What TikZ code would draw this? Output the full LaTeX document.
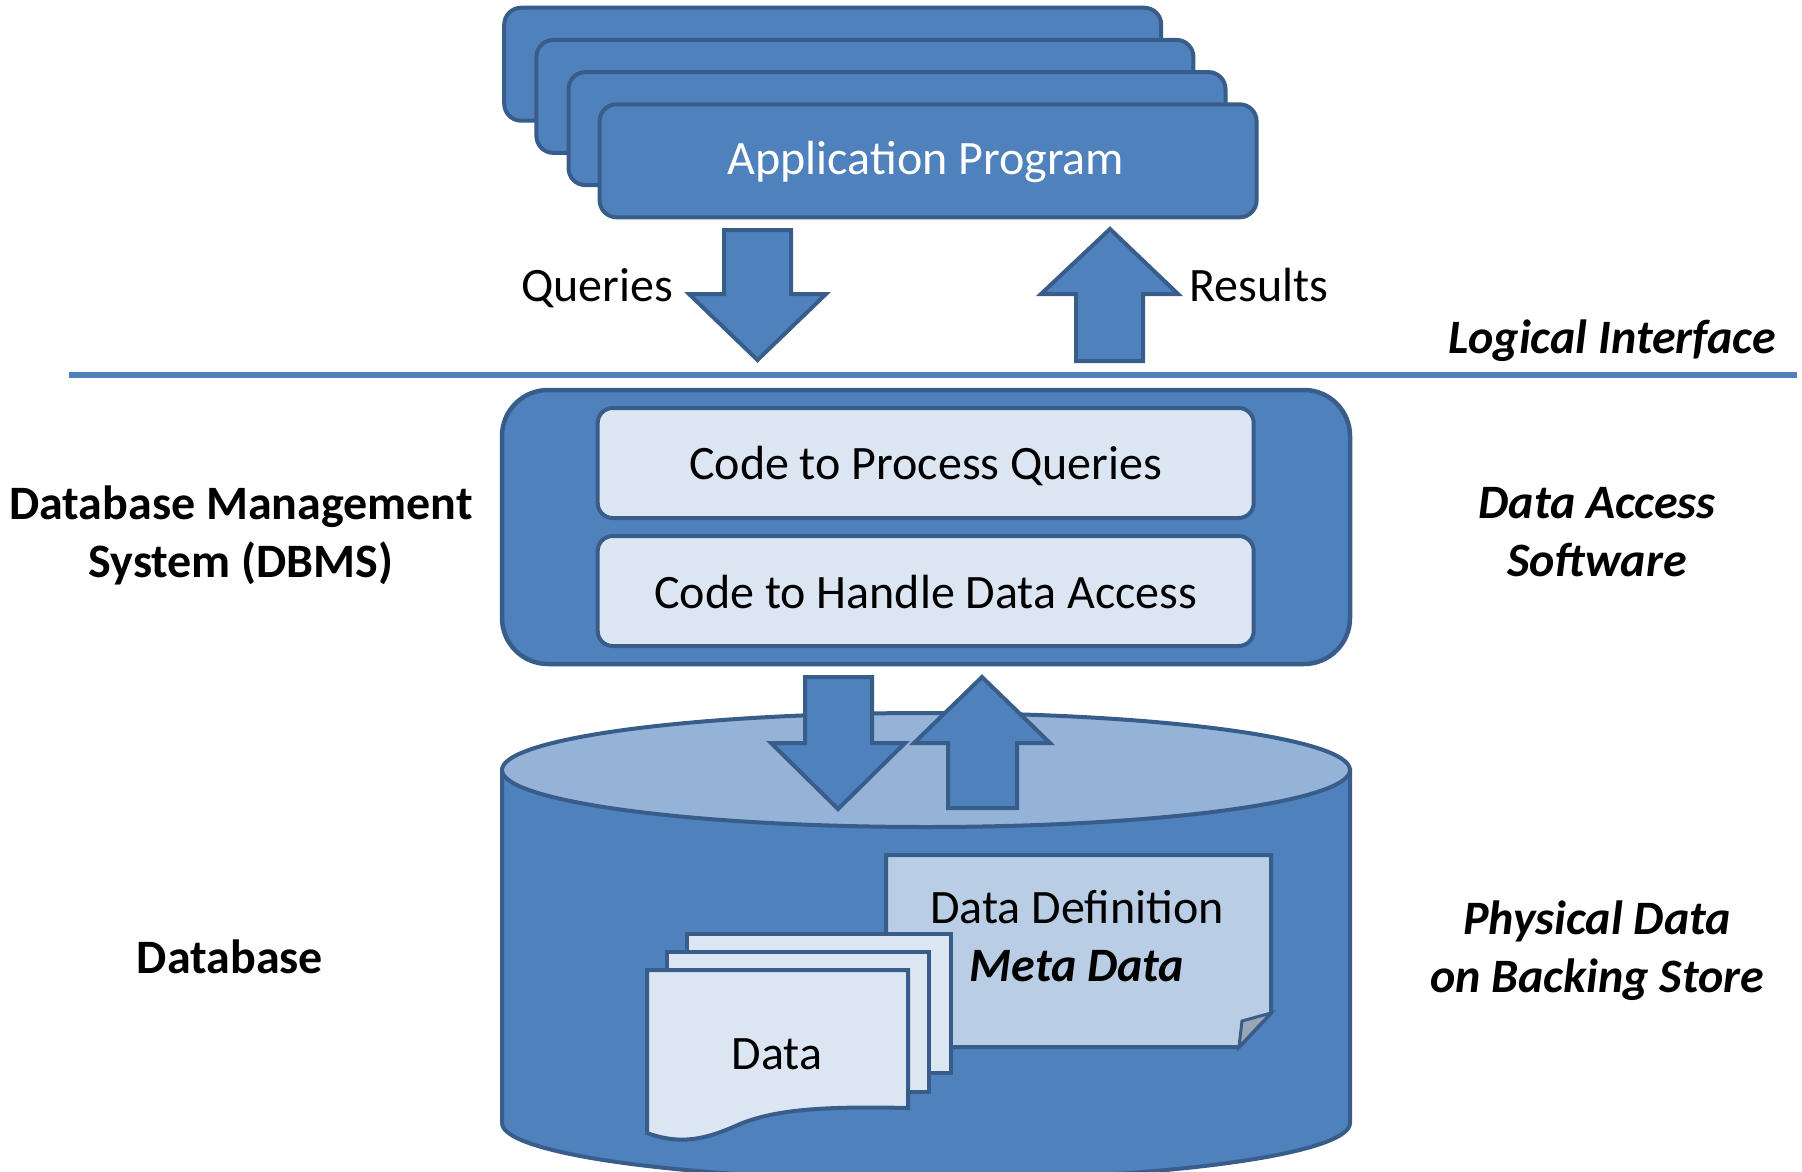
\documentclass[tikz,border=0pt]{standalone}
\usepackage{fontspec}
\setmainfont{Carlito}
\definecolor{mainblue}{HTML}{4F81BD}
\definecolor{edge}{HTML}{385D8A}
\definecolor{lightfill}{HTML}{DCE6F2}
\definecolor{midfill}{HTML}{B9CDE5}
\definecolor{topfill}{HTML}{95B3D7}
\definecolor{foldfill}{HTML}{9AA6B4}
\begin{document}
\begin{tikzpicture}[x=1pt,y=-1pt,
  every node/.style={font=\fontsize{48}{58}\selectfont, inner sep=0pt},
  appbox/.style={draw=edge, line width=4pt, fill=mainblue, rounded corners=17pt,
    minimum width=657pt, minimum height=113pt, anchor=north west, text=white},
  codebox/.style={draw=edge, line width=4pt, fill=lightfill, rounded corners=15pt,
    minimum width=656pt, minimum height=110pt},
  outerbox/.style={draw=edge, line width=4.5pt, fill=mainblue, rounded corners=46pt,
    minimum width=848pt, minimum height=274pt},
  blockarrow/.style={draw=edge, line width=4pt, fill=mainblue, line join=miter},
  docshape/.style={draw=edge, line width=4pt, fill=lightfill, line join=miter},
  lbl/.style={text=black},
  boldlbl/.style={text=black, align=center, font=\fontsize{48}{58}\selectfont\bfseries},
  bilbl/.style={text=black, align=center, font=\fontsize{48}{58}\selectfont\bfseries\itshape}
]
\useasboundingbox (0,0) rectangle (1802,1172);

% application program stack
\node[appbox] (app1) at (502.2,5.7) {};
\node[appbox] (app2) at (534.4,37.9) {};
\node[appbox] (app3) at (566.5,70.1) {};
\node[appbox] (app4) at (597.6,102.3) {};
\node[text=white] (apptext) at (926,162) {Application Program};

% queries / results arrows
\draw[blockarrow] (724,230) -- (791,230) -- (791,294) -- (826,294) -- (757.5,360)
  -- (689,294) -- (724,294) -- cycle;
\draw[blockarrow] (1110,229) -- (1178,294) -- (1143,294) -- (1143,361) -- (1076,361)
  -- (1076,294) -- (1041,294) -- cycle;
\node[lbl] (queries) at (597,288.5) {Queries};
\node[lbl] (results) at (1259,285) {Results};

% separator line
\coordinate (sepL) at (69,375);
\coordinate (sepR) at (1797,375);
\draw[line width=6pt, mainblue] (sepL) -- (sepR);
\node[bilbl, anchor=east] (logical) at (1776,340.5) {Logical Interface};

% DBMS
\node[outerbox] (dbmsbox) at (926,527) {};
\node[codebox] (cpq) at (925.7,463) {};
\node[codebox] (chda) at (925.7,591) {};
\node[lbl] (cpqtext) at (925.7,466) {Code to Process Queries};
\node[lbl] (chdatext) at (925.7,592) {Code to Handle Data Access};
\node[boldlbl] (dbms) at (241,535) {Database Management\\System (DBMS)};
\node[bilbl] (das) at (1597,532) {Data Access\\Software};

% database cylinder
\draw[draw=edge, line width=4pt, fill=mainblue]
  (502,770) -- (502,1123) arc[start angle=180, end angle=360, x radius=424pt, y radius=57pt]
  -- (1350,770) -- cycle;
\draw[draw=edge, line width=4pt, fill=topfill] (926,770) ellipse [x radius=424pt, y radius=57pt];

% arrows into database
\draw[blockarrow] (805,677) -- (872,677) -- (872,743) -- (905,743) -- (838,809)
  -- (771,743) -- (805,743) -- cycle;
\draw[blockarrow] (982,677) -- (1050,743) -- (1017,743) -- (1017,808) -- (948,808)
  -- (948,743) -- (914,743) -- cycle;

% meta data document
\draw[docshape, fill=midfill] (886,855) -- (1271,855) -- (1271,1013) -- (1239,1047)
  -- (886,1047) -- cycle;
\draw[draw=edge, line width=3pt, fill=foldfill, line join=miter]
  (1271,1013) -- (1242,1021) -- (1239,1047) -- cycle;
\node[lbl, align=center] (meta) at (1077,936) {Data Definition\\\textbf{\textit{Meta Data}}};

% data documents
\draw[docshape] (687,934) rectangle (951,1073);
\draw[docshape] (667,952) rectangle (929,1092);
\draw[docshape] (647,970) -- (908,970) -- (908,1108)
  .. controls (820,1106) and (775,1110) .. (740,1124)
  .. controls (705,1140) and (680,1145) .. (647,1133) -- cycle;
\node[lbl] (data) at (777,1054) {Data};

\node[boldlbl] (database) at (230,957) {Database};
\node[bilbl] (phys) at (1597,951) {Physical Data\\on Backing Store};
\end{tikzpicture}
\end{document}
